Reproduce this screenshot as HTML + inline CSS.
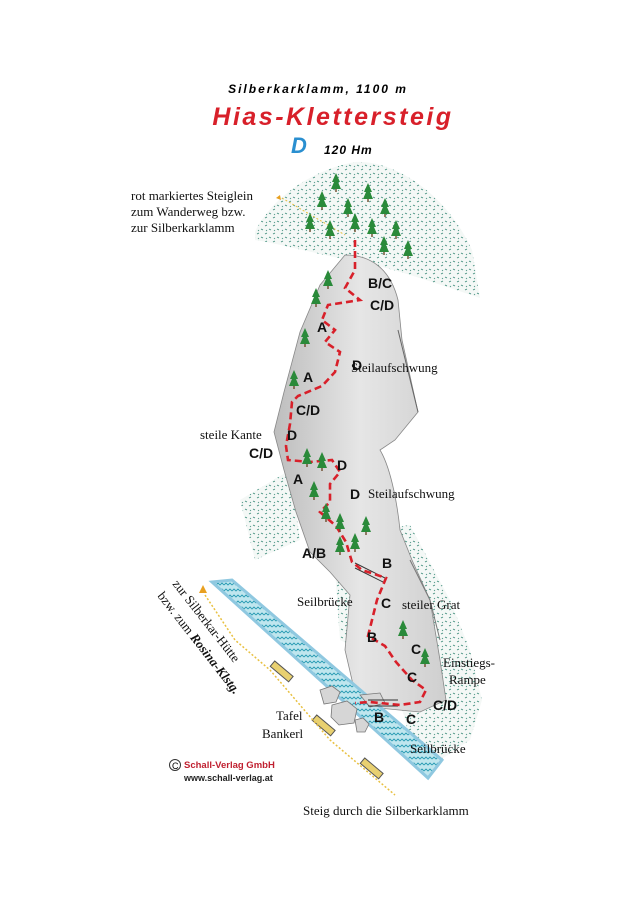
<!DOCTYPE html>
<html><head><meta charset="utf-8"><style>
body{margin:0;background:#fff}
svg{display:block}
.l{font-family:"Liberation Sans",sans-serif;font-weight:bold;font-size:14px;fill:#111}
.s{font-family:"Liberation Serif",serif;font-size:13px;fill:#111}
</style></head><body>
<svg width="637" height="900" viewBox="0 0 637 900" xmlns="http://www.w3.org/2000/svg">
<defs>
<linearGradient id="rock" x1="0" y1="0" x2="1" y2="0">
<stop offset="0" stop-color="#bdbdbd"/><stop offset="0.5" stop-color="#e6e6e6"/><stop offset="1" stop-color="#cfcfcf"/></linearGradient>
<pattern id="grass" width="8" height="8" patternUnits="userSpaceOnUse">
<rect width="8" height="8" fill="#f4f8f6"/><path d="M1 2l2 -1M5 5l2 1M2 6l1 1" stroke="#3a8a78" stroke-width="0.8"/></pattern>
<pattern id="water" width="8" height="6" patternUnits="userSpaceOnUse">
<rect width="8" height="6" fill="#bfe6ee"/><path d="M0 3l2 -2l2 2l2 -2l2 2" stroke="#2a9cb4" fill="none" stroke-width="0.9"/></pattern>
<g id="t"><path d="M0 -12L-4 -3H-2L-5 4H5L2 -3H4Z" fill="#2a8a3a"/><rect x="-0.7" y="4" width="1.4" height="3" fill="#6b4a2a"/></g>
</defs>
<!-- title -->
<text x="318" y="93" text-anchor="middle" font-family="Liberation Sans,sans-serif" font-weight="bold" font-style="italic" font-size="12" letter-spacing="2">Silberkarklamm, 1100 m</text>
<text x="333" y="125" text-anchor="middle" font-family="Liberation Sans,sans-serif" font-weight="bold" font-style="italic" font-size="25" letter-spacing="2.5" fill="#d8202a">Hias-Klettersteig</text>
<text x="291" y="153" font-family="Liberation Sans,sans-serif" font-weight="bold" font-style="italic" font-size="22" fill="#2a8fd0">D</text>
<text x="324" y="154" font-family="Liberation Sans,sans-serif" font-weight="bold" font-style="italic" font-size="12" letter-spacing="1">120 Hm</text>
<!-- top meadow -->
<path d="M255 232 C270 200 310 170 355 162 C400 160 450 200 472 250 L480 298 C440 285 400 270 360 262 C320 255 285 245 255 240Z" fill="url(#grass)"/>
<!-- side grass areas -->
<path d="M240 500 L290 470 L300 540 L255 560 Z" fill="url(#grass)"/>
<path d="M378 530 L410 525 L450 600 L470 650 L482 700 L470 740 L440 760 L410 740 L400 700Z" fill="url(#grass)"/>
<path d="M335 570 L360 560 L380 600 L360 650 L340 640Z" fill="url(#grass)"/>
<!-- rock mass -->
<path d="M345 255 C370 255 390 268 398 300 L402 340 L418 412 L395 440 L380 450 C392 470 398 510 400 530 L412 560 L430 600 L440 660 L446 700 L420 712 L358 706 L345 650 L350 595 L330 572 L310 552 L296 512 L284 470 L274 432 L284 392 L300 332 L320 285Z" fill="url(#rock)" stroke="#888" stroke-width="0.8"/>
<path d="M398 330 L418 412" stroke="#666" fill="none"/>
<path d="M410 560 L430 600 L440 640" stroke="#777" fill="none"/>
<!-- stream -->
<path d="M212 582 L232 580 L442 760 L428 778 Z" fill="url(#water)" stroke="#8fc8e0" stroke-width="3"/>
<!-- rocks at bottom -->
<g fill="#d6d6d6" stroke="#777" stroke-width="0.8">
<path d="M320 690 l12 -4 l8 6 l-4 10 l-12 2z"/><path d="M332 705 l15 -4 l10 8 l-3 14 l-15 2 l-8 -8z"/><path d="M355 720 l8 -2 l6 6 l-4 8 l-8 0z"/><path d="M360 695 l20 -2 l5 10 l-15 4z"/>
</g>
<!-- ladders -->
<g stroke="#555" fill="#e8d070"><rect x="270" y="668" width="24" height="7" transform="rotate(40 282 671)"/><rect x="312" y="722" width="24" height="7" transform="rotate(40 324 725)"/><rect x="360" y="765" width="24" height="7" transform="rotate(40 372 768)"/></g>
<!-- yellow path -->
<path d="M205 595 L235 640 L270 670 L330 740 L395 795" stroke="#e8c040" stroke-width="1.5" stroke-dasharray="2 2" fill="none"/>
<path d="M203 585 l-4 8 l8 0z" fill="#e8a020"/>
<!-- bridges -->
<path d="M355 563 L385 578 M355 568 L383 582" stroke="#333"/>
<path d="M368 700 L398 700 M368 706 L398 706" stroke="#333"/>
<!-- red route -->
<path d="M355 240 L355 270 L345 288 L360 300 L328 305 L322 320 L335 330 L325 342 L340 352 L335 372 L322 386 L298 396 L292 402 L290 424 L286 446 L288 460 L310 462 L332 460 L340 472 L330 484 L330 502 L320 512 L336 526 L346 542 L352 562 L362 570 L386 578 L377 600 L372 620 L368 636 L385 646 L396 662 L412 680 L426 690 L420 702 L400 705 L370 702 L355 703" stroke="#d8202a" stroke-width="2.6" stroke-dasharray="7 4" fill="none"/>
<path d="M280 195 l-4 3 l5 2z" fill="#e8a020"/><path d="M282 198 L345 235" stroke="#e8c040" stroke-dasharray="2 2"/>
<!-- trees -->
<g>
<use href="#t" x="336" y="185"/><use href="#t" x="322" y="203"/><use href="#t" x="348" y="210"/><use href="#t" x="368" y="195"/><use href="#t" x="385" y="210"/><use href="#t" x="310" y="225"/><use href="#t" x="330" y="232"/><use href="#t" x="355" y="225"/><use href="#t" x="372" y="230"/><use href="#t" x="396" y="232"/><use href="#t" x="408" y="252"/><use href="#t" x="384" y="248"/>
<use href="#t" x="328" y="282"/><use href="#t" x="316" y="300"/><use href="#t" x="305" y="340"/><use href="#t" x="294" y="382"/><use href="#t" x="307" y="460"/><use href="#t" x="322" y="464"/><use href="#t" x="314" y="493"/><use href="#t" x="326" y="515"/><use href="#t" x="340" y="525"/><use href="#t" x="355" y="545"/><use href="#t" x="340" y="548"/><use href="#t" x="366" y="528"/><use href="#t" x="403" y="632"/><use href="#t" x="425" y="660"/>
</g>
<!-- grade labels -->
<g class="l">
<text x="368" y="288">B/C</text><text x="370" y="310">C/D</text><text x="317" y="332">A</text><text x="352" y="370">D</text><text x="303" y="382">A</text><text x="296" y="415">C/D</text><text x="287" y="440">D</text><text x="249" y="458">C/D</text><text x="293" y="484">A</text><text x="337" y="470">D</text><text x="350" y="499">D</text><text x="302" y="558">A/B</text><text x="382" y="568">B</text><text x="381" y="608">C</text><text x="367" y="642">B</text><text x="411" y="654">C</text><text x="407" y="682">C</text><text x="433" y="710">C/D</text><text x="374" y="722">B</text><text x="406" y="724">C</text>
</g>
<!-- serif labels -->
<g class="s">
<text x="131" y="200">rot markiertes Steiglein</text><text x="131" y="216">zum Wanderweg bzw.</text><text x="131" y="232">zur Silberkarklamm</text>
<text x="351" y="372">Steilaufschwung</text><text x="200" y="439">steile Kante</text><text x="368" y="498">Steilaufschwung</text>
<text x="297" y="606">Seilbrücke</text><text x="402" y="609">steiler Grat</text><text x="443" y="667">Einstiegs-</text><text x="449" y="684">Rampe</text>
<text x="276" y="720">Tafel</text><text x="262" y="738">Bankerl</text><text x="410" y="753">Seilbrücke</text>
<text x="303" y="815">Steig durch die Silberkarklamm</text>
<text transform="translate(172,584) rotate(52)">zur Silberkar-Hütte</text>
<text transform="translate(157,596) rotate(52)">bzw. zum <tspan font-weight="bold" font-style="italic">Rosina-Klstg.</tspan></text>
</g>
<circle cx="175" cy="765" r="5.5" fill="none" stroke="#333"/><text x="172" y="769" font-family="Liberation Sans,sans-serif" font-size="9">C</text>
<text x="184" y="768" font-family="Liberation Sans,sans-serif" font-weight="bold" font-size="9.5" fill="#c02030">Schall-Verlag GmbH</text>
<text x="184" y="781" font-family="Liberation Sans,sans-serif" font-weight="bold" font-size="9" fill="#222">www.schall-verlag.at</text>
</svg>
</body></html>
